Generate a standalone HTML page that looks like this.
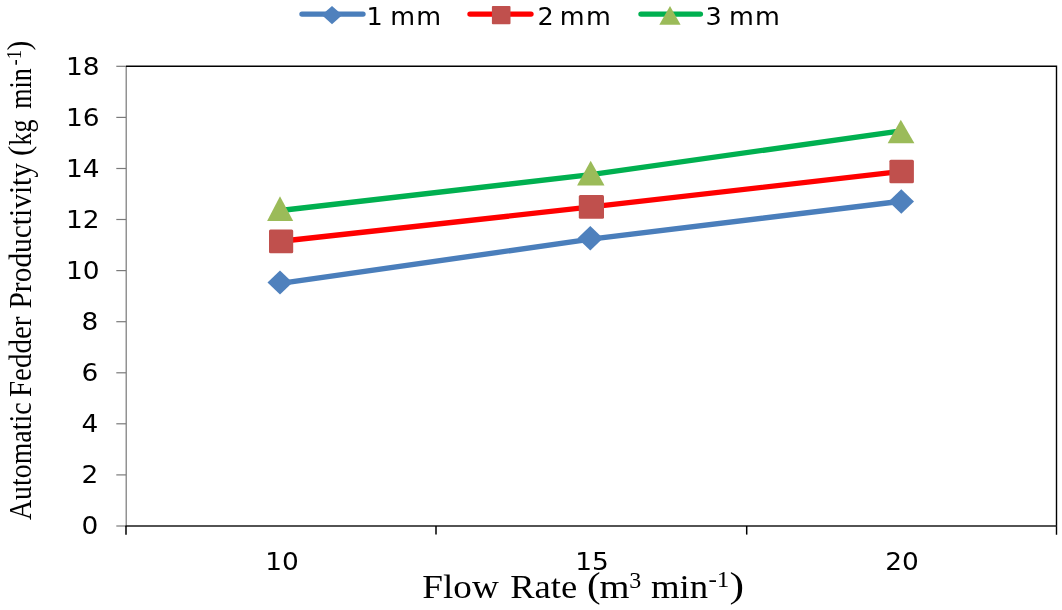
<!DOCTYPE html>
<html lang="en">
<head>
<meta charset="utf-8">
<title>Automatic Fedder Productivity vs Flow Rate</title>
<style>
  html, body { margin: 0; padding: 0; background: #ffffff; }
  body { width: 1062px; height: 610px; overflow: hidden; }
  svg { display: block; }
  .num { font-family: "DejaVu Sans", "Liberation Sans", sans-serif; font-size: 24px; fill: #000; }
  .ttl { font-family: "Liberation Serif", serif; fill: #000; }
</style>
</head>
<body>
<svg width="1062" height="610" viewBox="0 0 1062 610">
  <rect x="0" y="0" width="1062" height="610" fill="#ffffff"/>

  <!-- plot area border -->
  <g fill="none" stroke-linecap="butt">
    <!-- y axis (gray) -->
    <line x1="126.2" y1="66" x2="126.2" y2="526" stroke="#777777" stroke-width="1.2"/>
    <!-- y ticks -->
    <g stroke="#7a7a7a" stroke-width="1.2">
      <line x1="116.3" y1="66.3" x2="126" y2="66.3"/>
      <line x1="116.3" y1="117.4" x2="126" y2="117.4"/>
      <line x1="116.3" y1="168.5" x2="126" y2="168.5"/>
      <line x1="116.3" y1="219.5" x2="126" y2="219.5"/>
      <line x1="116.3" y1="270.6" x2="126" y2="270.6"/>
      <line x1="116.3" y1="321.7" x2="126" y2="321.7"/>
      <line x1="116.3" y1="372.8" x2="126" y2="372.8"/>
      <line x1="116.3" y1="423.8" x2="126" y2="423.8"/>
      <line x1="116.3" y1="474.9" x2="126" y2="474.9"/>
      <line x1="116.3" y1="526" x2="126" y2="526"/>
    </g>
    <!-- top & right border (black) -->
    <polyline points="126,66.3 1056.5,66.3 1056.5,534.8" stroke="#000" stroke-width="1.4"/>
    <!-- x axis -->
    <line x1="125.5" y1="526" x2="1057" y2="526" stroke="#1a1a1a" stroke-width="1.5"/>
    <!-- x ticks -->
    <g stroke="#000" stroke-width="1.5">
      <line x1="126" y1="526" x2="126" y2="534.8"/>
      <line x1="436" y1="526" x2="436" y2="534.6"/>
      <line x1="746.7" y1="526" x2="746.7" y2="534.6"/>
    </g>
  </g>

  <!-- series lines -->
  <g fill="none" stroke-linecap="round" stroke-linejoin="round" stroke-width="5.4">
    <polyline points="280.5,283.4 590.8,239.1 901.3,201.3" stroke="#4A7EBB"/>
    <polyline points="281,241.3 591.3,206.9 901.6,171.4" stroke="#FF0000"/>
    <polyline points="280.5,210.5 590.8,174.6 901,130.8" stroke="#00B050"/>
  </g>

  <!-- markers -->
  <g fill="#4F81BD">
    <polygon points="267.5,282.5 280,270.5 292.5,282.5 280,294.5"/>
    <polygon points="577.5,238.2 590.3,226 603,238.2 590.3,250.5"/>
    <polygon points="888.6,201.4 901.3,189.2 914,201.4 901.3,213.7"/>
  </g>
  <g fill="#C0504D">
    <rect x="269" y="229.6" width="24.2" height="23.6" rx="1.5"/>
    <rect x="578.8" y="195" width="25.2" height="23.8" rx="1.5"/>
    <rect x="889.4" y="159.7" width="24.5" height="23.6" rx="1.5"/>
  </g>
  <g fill="#9BBB59">
    <polygon points="267.1,221 280,196.3 293.2,221"/>
    <polygon points="577.1,185.4 590.7,160.7 604.5,185.4"/>
    <polygon points="887.7,143.3 900.8,119.8 914.4,143.3"/>
  </g>

  <!-- legend -->
  <g stroke-linecap="round" stroke-width="5.4" fill="none">
    <line x1="302" y1="14.1" x2="363" y2="14.1" stroke="#4A7EBB"/>
    <line x1="470" y1="14.1" x2="531" y2="14.1" stroke="#FF0000"/>
    <line x1="641" y1="14.1" x2="700.4" y2="14.1" stroke="#00B050"/>
  </g>
  <polygon points="321.8,15 332,5.9 342.3,15 332,24.2" fill="#4F81BD"/>
  <rect x="491.9" y="6.1" width="18.6" height="18.2" rx="1" fill="#C0504D"/>
  <polygon points="659.3,24.7 670,6 680.6,24.7" fill="#9BBB59"/>
  <g class="num" style="font-size:25.5px">
    <text x="366.6 383 390.3 416.3" y="24.6">1 mm</text>
    <text x="537.4 553.6 559.7 586" y="24.6">2 mm</text>
    <text x="705.6 722 729 755" y="24.6">3 mm</text>
  </g>

  <!-- y tick labels -->
  <g class="num" text-anchor="end">
    <text transform="translate(99.6,74.6) scale(1.1,1)">18</text>
    <text transform="translate(99.6,125.7) scale(1.1,1)">16</text>
    <text transform="translate(99.6,176.8) scale(1.1,1)">14</text>
    <text transform="translate(99.6,227.8) scale(1.1,1)">12</text>
    <text transform="translate(99.6,278.9) scale(1.1,1)">10</text>
    <text transform="translate(98.2,330) scale(1.1,1)">8</text>
    <text transform="translate(98.2,381.1) scale(1.1,1)">6</text>
    <text transform="translate(98.2,432.1) scale(1.1,1)">4</text>
    <text transform="translate(98.2,483.2) scale(1.1,1)">2</text>
    <text transform="translate(98.2,534.3) scale(1.1,1)">0</text>
  </g>

  <!-- x tick labels -->
  <g class="num" text-anchor="middle">
    <text transform="translate(282,570.3) scale(1.1,1)">10</text>
    <text transform="translate(592,569.5) scale(1.1,1)">15</text>
    <text transform="translate(902,570.3) scale(1.1,1)">20</text>
  </g>

  <!-- axis titles -->
  <g class="ttl" font-size="34px">
    <text x="422.3" y="598" textLength="76.5" lengthAdjust="spacingAndGlyphs">Flow</text>
    <text x="510.2" y="598" textLength="67" lengthAdjust="spacingAndGlyphs">Rate</text>
    <text x="587" y="597.4" font-size="35.8px" textLength="13.6" lengthAdjust="spacingAndGlyphs">(</text>
    <text x="599.6" y="598" textLength="30" lengthAdjust="spacingAndGlyphs">m</text>
    <text x="629.3" y="587.6" font-size="22.8px" textLength="12" lengthAdjust="spacingAndGlyphs">3</text>
    <text x="651" y="598" textLength="57.2" lengthAdjust="spacingAndGlyphs">min</text>
    <text x="708.4" y="587.2" font-size="22.8px" textLength="21" lengthAdjust="spacingAndGlyphs">-1</text>
    <text x="729.6" y="597.4" font-size="35.8px" textLength="14.6" lengthAdjust="spacingAndGlyphs">)</text>
  </g>
  <g class="ttl" font-size="31px" transform="translate(31.3,520) rotate(-90)">
    <text x="0" y="0" textLength="117.5" lengthAdjust="spacingAndGlyphs">Automatic</text>
    <text x="123" y="0" textLength="80.5" lengthAdjust="spacingAndGlyphs">Fedder</text>
    <text x="211.5" y="0" textLength="145.5" lengthAdjust="spacingAndGlyphs">Productivity</text>
    <text x="364" y="-1.2" textLength="10.2" lengthAdjust="spacingAndGlyphs">(</text>
    <text x="374.6" y="0" textLength="26" lengthAdjust="spacingAndGlyphs">kg</text>
    <text x="411.3" y="0" textLength="40.5" lengthAdjust="spacingAndGlyphs">min</text>
    <text x="454.5" y="-10.5" font-size="20px" textLength="15.5" lengthAdjust="spacingAndGlyphs">-1</text>
    <text x="469.6" y="-2.3" textLength="9.8" lengthAdjust="spacingAndGlyphs">)</text>
  </g>
</svg>
</body>
</html>
